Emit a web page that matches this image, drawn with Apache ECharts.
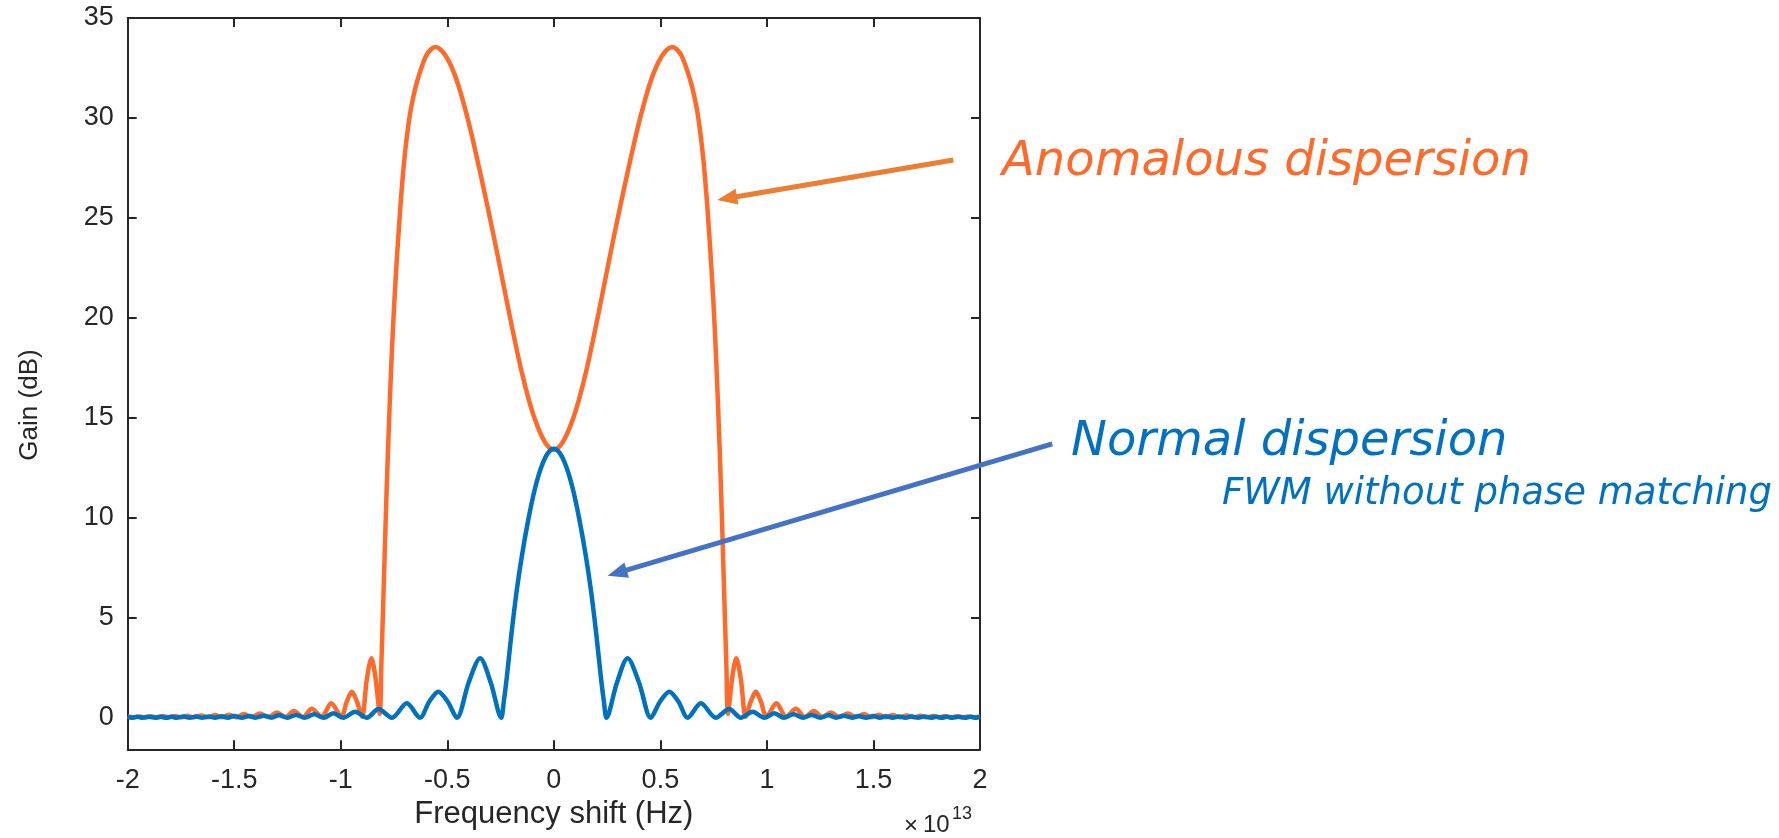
<!DOCTYPE html>
<html><head><meta charset="utf-8">
<script src="https://cdn.jsdelivr.net/npm/echarts@6/dist/echarts.min.js"></script>
<style>html,body{margin:0;padding:0;background:#fff}#c{width:1779px;height:838px}</style>
</head><body><div id="c"></div>
<script>
// x in units of 1e13 Hz, y in dB
const xTicks = [-2, -1.5, -1, -0.5, 0, 0.5, 1, 1.5, 2];
const yTicks = [0, 5, 10, 15, 20, 25, 30, 35];

const anomalous = [
  [-2.0,0.06],[-1.975,0.02],[-1.945,0.065],[-1.92,0.02],[-1.89,0.07],[-1.865,0.02],[-1.835,0.08],[-1.81,0.02],
  [-1.78,0.09],[-1.75,0.02],[-1.72,0.1],[-1.69,0.02],[-1.655,0.11],[-1.625,0.02],[-1.59,0.13],[-1.56,0.02],
  [-1.525,0.15],[-1.49,0.02],[-1.455,0.18],[-1.42,0.03],[-1.38,0.21],[-1.34,0.03],[-1.30,0.26],[-1.26,0.03],
  [-1.22,0.33],[-1.178,0.04],[-1.136,0.45],[-1.09,0.05],[-1.045,0.72],[-0.997,0.05],[-0.972,0.8],[-0.948,1.3],
  [-0.924,0.8],[-0.90,0.05],[-0.878,1.9],[-0.856,2.97],[-0.837,2.0],[-0.817,0.2],[-0.81,2.5],[-0.80,6.0],
  [-0.785,11.3],[-0.77,15.8],[-0.755,19.5],[-0.74,22.4],[-0.72,25.6],[-0.70,28.1],[-0.675,30.2],[-0.65,31.5],
  [-0.625,32.4],[-0.60,33.1],[-0.575,33.45],[-0.555,33.55],[-0.535,33.45],[-0.51,33.15],[-0.48,32.55],[-0.45,31.7],
  [-0.42,30.6],[-0.39,29.35],[-0.36,27.95],[-0.33,26.5],[-0.30,25.0],[-0.27,23.45],[-0.24,21.85],[-0.21,20.25],
  [-0.18,18.7],[-0.15,17.25],[-0.12,16.0],[-0.09,14.95],[-0.06,14.15],[-0.03,13.6],[0,13.4],
  [0.03,13.6],[0.06,14.15],[0.09,14.95],[0.12,16.0],[0.15,17.25],[0.18,18.7],[0.21,20.25],[0.24,21.85],
  [0.27,23.45],[0.30,25.0],[0.33,26.5],[0.36,27.95],[0.39,29.35],[0.42,30.6],[0.45,31.7],[0.48,32.55],
  [0.51,33.15],[0.535,33.45],[0.555,33.55],[0.575,33.45],[0.60,33.1],[0.625,32.4],[0.65,31.5],[0.675,30.2],
  [0.70,28.1],[0.72,25.6],[0.74,22.4],[0.755,19.5],[0.77,15.8],[0.785,11.3],[0.80,6.0],[0.81,2.5],
  [0.817,0.2],[0.837,2.0],[0.856,2.97],[0.878,1.9],[0.90,0.05],[0.924,0.8],[0.948,1.3],[0.972,0.8],
  [0.997,0.05],[1.045,0.72],[1.09,0.05],[1.136,0.45],[1.178,0.04],[1.22,0.33],[1.26,0.03],[1.30,0.26],
  [1.34,0.03],[1.38,0.21],[1.42,0.03],[1.455,0.18],[1.49,0.02],[1.525,0.15],[1.56,0.02],[1.59,0.13],
  [1.625,0.02],[1.655,0.11],[1.69,0.02],[1.72,0.1],[1.75,0.02],[1.78,0.09],[1.81,0.02],[1.835,0.08],
  [1.865,0.02],[1.89,0.07],[1.92,0.02],[1.945,0.065],[1.975,0.02],[2.0,0.06]
];

const normal = [
  [-2.0,0.04],[-1.98,0],[-1.955,0.045],[-1.93,0],[-1.90,0.045],[-1.87,0],[-1.845,0.05],[-1.82,0],
  [-1.795,0.05],[-1.77,0],[-1.74,0.055],[-1.71,0],[-1.68,0.06],[-1.65,0],[-1.62,0.065],[-1.59,0],
  [-1.56,0.07],[-1.53,0],[-1.50,0.08],[-1.465,0],[-1.43,0.09],[-1.40,0],[-1.36,0.10],[-1.325,0],
  [-1.29,0.12],[-1.25,0],[-1.21,0.14],[-1.17,0],[-1.125,0.17],[-1.08,0],[-1.035,0.22],[-0.988,0],
  [-0.933,0.3],[-0.878,0],[-0.823,0.43],[-0.76,0],[-0.69,0.72],[-0.628,0],[-0.585,0.8],[-0.542,1.3],
  [-0.498,0.8],[-0.455,0],[-0.40,1.75],[-0.346,2.97],[-0.296,1.75],[-0.247,0],[-0.235,0.8],[-0.22,2.1],
  [-0.2,4.1],[-0.175,6.3],[-0.15,8.1],[-0.12,9.9],[-0.09,11.4],[-0.06,12.5],[-0.03,13.2],[0,13.45],
  [0.03,13.2],[0.06,12.5],[0.09,11.4],[0.12,9.9],[0.15,8.1],[0.175,6.3],[0.2,4.1],[0.22,2.1],
  [0.235,0.8],[0.247,0],[0.296,1.75],[0.346,2.97],[0.40,1.75],[0.455,0],[0.498,0.8],[0.542,1.3],
  [0.585,0.8],[0.628,0],[0.69,0.72],[0.76,0],[0.823,0.43],[0.878,0],[0.933,0.3],[0.988,0],
  [1.035,0.22],[1.08,0],[1.125,0.17],[1.17,0],[1.21,0.14],[1.25,0],[1.29,0.12],[1.325,0],
  [1.36,0.10],[1.40,0],[1.43,0.09],[1.465,0],[1.50,0.08],[1.53,0],[1.56,0.07],[1.59,0],
  [1.62,0.065],[1.65,0],[1.68,0.06],[1.71,0],[1.74,0.055],[1.77,0],[1.795,0.05],[1.82,0],
  [1.845,0.05],[1.87,0],[1.90,0.045],[1.93,0],[1.955,0.045],[1.98,0],[2.0,0.04]
];

// annotation arrows: [tailX, tailY, tipX, tipY] in data units
const anomalousArrow = [1.875, 27.9, 0.767, 25.9];
const normalArrow = [2.339, 13.7, 0.252, 7.1];
const anomalousLabel = 'Anomalous dispersion';
const normalLabel = 'Normal dispersion';
const normalSubLabel = 'FWM without phase matching';

const AX = '#262626';
const FONT = '"Liberation Sans", Arial, Helvetica, sans-serif';
const chart = echarts.init(document.getElementById('c'), null, {renderer: 'canvas'});
const tickStyle = {show: true, inside: true, length: 9, lineStyle: {color: AX, width: 2}};
const lineStyleAx = {show: true, onZero: false, lineStyle: {color: AX, width: 2}};

chart.setOption({
  animation: false,
  backgroundColor: '#fff',
  grid: {left: 127.7, top: 18, width: 852.3, height: 731.3, containLabel: false},
  xAxis: [{
    type: 'value', min: -2, max: 2, interval: 0.5, position: 'bottom',
    axisLine: lineStyleAx, axisTick: tickStyle, splitLine: {show: false},
    axisLabel: {color: AX, fontSize: 27, fontFamily: FONT, margin: 18,
      customValues: xTicks, formatter: v => String(v)},
    name: 'Frequency shift (Hz)', nameLocation: 'middle', nameGap: 50,
    nameTextStyle: {color: AX, fontSize: 31, fontFamily: FONT}
  }, {
    type: 'value', min: -2, max: 2, interval: 0.5, position: 'top',
    axisLine: lineStyleAx, axisTick: tickStyle, splitLine: {show: false}, axisLabel: {show: false}
  }],
  yAxis: [{
    type: 'value', min: -1.58, max: 35, position: 'left',
    axisLine: lineStyleAx,
    axisTick: Object.assign({customValues: yTicks}, tickStyle),
    splitLine: {show: false},
    axisLabel: {color: AX, fontSize: 27, fontFamily: FONT, margin: 14, customValues: yTicks}
  }, {
    type: 'value', min: -1.58, max: 35, position: 'right',
    axisLine: lineStyleAx,
    axisTick: Object.assign({customValues: yTicks}, tickStyle),
    splitLine: {show: false}, axisLabel: {show: false}
  }],
  series: [{
    name: 'Anomalous', type: 'line', data: anomalous, showSymbol: false, smooth: 0.3,
    lineStyle: {color: '#FF6A2A', width: 4.5}, itemStyle: {color: '#FF6A2A'}, z: 2
  }, {
    name: 'Normal', type: 'line', data: normal, showSymbol: false, smooth: 0.3,
    lineStyle: {color: '#0072BD', width: 4.5}, itemStyle: {color: '#0072BD'}, z: 3
  }]
});

function arrow(a, color) {
  const p1 = chart.convertToPixel({xAxisIndex: 0, yAxisIndex: 0}, [a[0], a[1]]);
  const p2 = chart.convertToPixel({xAxisIndex: 0, yAxisIndex: 0}, [a[2], a[3]]);
  const dx = p2[0] - p1[0], dy = p2[1] - p1[1];
  const len = Math.hypot(dx, dy), ux = dx / len, uy = dy / len;
  const hl = 20, hw = 8;
  const bx = p2[0] - ux * hl, by = p2[1] - uy * hl;
  return [{
    type: 'line', shape: {x1: p1[0], y1: p1[1], x2: bx + ux * 2, y2: by + uy * 2},
    style: {stroke: color, lineWidth: 5}, z: 10
  }, {
    type: 'polygon',
    shape: {points: [[p2[0], p2[1]], [bx - uy * hw, by + ux * hw], [bx + uy * hw, by - ux * hw]]},
    style: {fill: color}, z: 10
  }];
}

const ANN = '"DejaVu Sans", sans-serif';
chart.setOption({
  graphic: [].concat(
    arrow(anomalousArrow, '#ED7D31'),
    arrow(normalArrow, '#4472C4'),
    [{
      type: 'text', x: 1002, y: 163, z: 11,
      style: {text: anomalousLabel, fill: '#FF6A2A', font: 'italic 48px ' + ANN, verticalAlign: 'middle'}
    }, {
      type: 'text', x: 1071, y: 443, z: 11,
      style: {text: normalLabel, fill: '#0070C0', font: 'italic 48px ' + ANN, verticalAlign: 'middle'}
    }, {
      type: 'text', x: 1222, y: 494, z: 11,
      style: {text: normalSubLabel, fill: '#0070C0', font: 'italic 37px ' + ANN, verticalAlign: 'middle'}
    }, {
      type: 'text', x: 30, y: 405, rotation: Math.PI / 2, z: 11,
      style: {text: 'Gain (dB)', fill: AX, font: '26px ' + FONT, align: 'center', verticalAlign: 'middle'}
    }, {
      type: 'text', x: 904, y: 826, z: 11,
      style: {text: '×', fill: AX, font: '24px ' + FONT, verticalAlign: 'middle'}
    }, {
      type: 'text', x: 923, y: 825, z: 11,
      style: {text: '10', fill: AX, font: '24px ' + FONT, verticalAlign: 'middle'}
    }, {
      type: 'text', x: 952, y: 814, z: 11,
      style: {text: '13', fill: AX, font: '18px ' + FONT, verticalAlign: 'middle'}
    }]
  )
});
</script>
</body></html>
